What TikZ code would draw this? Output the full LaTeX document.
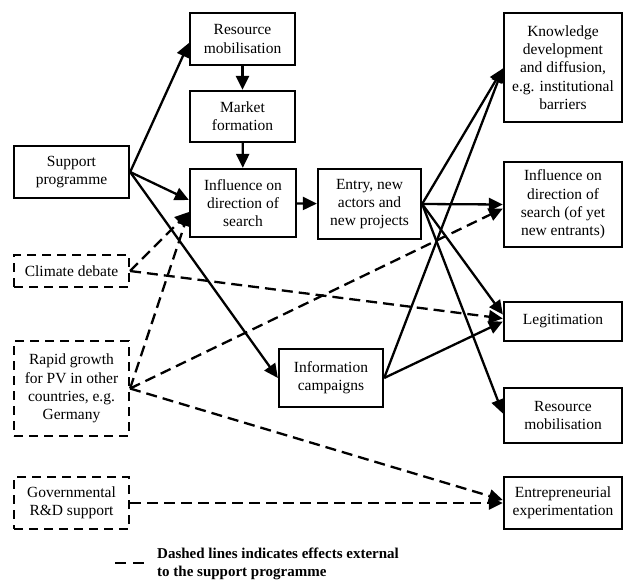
\documentclass[tikz,border=0pt]{standalone}
\usepackage{fontspec}
\setmainfont{Liberation Serif}
\usetikzlibrary{arrows.meta}
\begin{document}
\begin{tikzpicture}[x=1pt,y=-1pt,
  box/.style={draw, line width=2.3pt, rectangle, inner sep=0pt, align=center,
    font=\fontsize{15.5}{18.3}\selectfont},
  extbox/.style={box, line width=2.1pt, dash pattern=on 9pt off 6pt},
  link/.style={line width=2.3pt, -{Triangle[length=14pt,width=13pt]}},
  extlink/.style={link, dash pattern=on 11pt off 6pt},
]
\useasboundingbox (0,0) rectangle (624,579);

% support programme and the functions it acts on directly
\node[box, minimum width=115pt, minimum height=52pt] (sup) at (71.5,172) {Support\\programme};
\node[box, minimum width=105pt, minimum height=52pt] (rm1) at (242.5,39) {Resource\\mobilisation};
\node[box, minimum width=105pt, minimum height=51pt] (mf) at (242.5,116.5) {Market\\formation};
\node[box, minimum width=106pt, minimum height=68pt] (ids) at (243,203) {Influence on\\direction of\\search};
\node[box, minimum width=103pt, minimum height=70pt] (entry) at (369.5,204) {Entry, new\\actors and\\new projects};
\node[box, minimum width=104pt, minimum height=58pt] (info) at (331,378) {Information\\campaigns};

% external factors
\node[extbox, minimum width=115pt, minimum height=32pt] (clim) at (71.5,271) {Climate debate};
\node[extbox, minimum width=115pt, minimum height=95pt] (rapid) at (71.5,388.5) {Rapid growth\\for PV in other\\countries, e.g.\\Germany};
\node[extbox, minimum width=115pt, minimum height=52pt] (gov) at (71.5,503) {Governmental\\R\&D support};

% induced functions
\node[box, minimum width=118pt, minimum height=109pt] (kd) at (563,67.5) {Knowledge\\development\\and diffusion,\\e.g. institutional\\barriers};
\node[box, minimum width=118pt, minimum height=85pt] (idn) at (563,204.5) {Influence on\\direction of\\search (of yet\\new entrants)};
\node[box, minimum width=118pt, minimum height=39pt] (leg) at (563,321.5) {Legitimation};
\node[box, minimum width=118pt, minimum height=55pt] (rm2) at (563,415.5) {Resource\\mobilisation};
\node[box, minimum width=118pt, minimum height=52pt] (ent) at (563,503) {Entrepreneurial\\experimentation};

% direct effects
\draw[link] (sup.east) -- ([yshift=-4pt]rm1.west);
\draw[link] (sup.east) -- ([yshift=3pt]ids.west);
\draw[link] (sup.east) -- (info.west);
\draw[link] (rm1) -- (mf);
\draw[link] (mf) -- (ids);
\draw[link] (ids) -- (entry);
\draw[link] (entry.east) -- ([yshift=-1pt]kd.west);
\draw[link] (entry.east) -- (idn.west);
\draw[link] (entry.east) -- ([yshift=7pt]leg.west);
\draw[link] (entry.east) -- ([yshift=2pt]rm2.west);
\draw[link] (info.east) -- ([yshift=-1pt]kd.west);
\draw[link] (info.east) -- (leg.west);

% external effects
\draw[extlink] (clim.east) -- ([yshift=-9pt]ids.west);
\draw[extlink] (clim.east) -- ([yshift=3pt]leg.west);
\draw[extlink] (rapid.east) -- ([yshift=-9pt]ids.west);
\draw[extlink] (rapid.east) -- ([yshift=-4pt]idn.west);
\draw[extlink] (rapid.east) -- ([yshift=3pt]ent.west);
\draw[extlink] (gov.east) -- (ent.west);

% legend
\coordinate (lgA) at (115,563);
\coordinate (lgB) at (145,563);
\draw[line width=2.3pt, dash pattern=on 11pt off 7pt] (lgA) -- (lgB);
\node[anchor=base west, align=left, inner sep=0pt,
  font=\fontsize{15}{18.3}\selectfont\bfseries] (legtext) at (157,576.3)
  {Dashed lines indicates effects external\\to the support programme};
\end{tikzpicture}
\end{document}
